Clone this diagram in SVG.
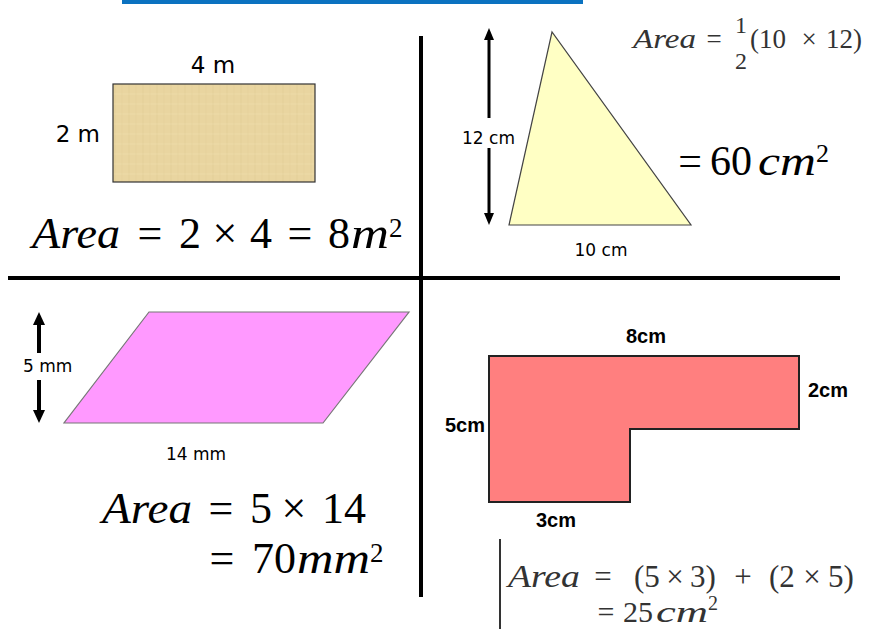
<svg xmlns="http://www.w3.org/2000/svg" width="879" height="629" viewBox="0 0 879 629">
<style>
.lbl{font-family:"DejaVu Sans",sans-serif;fill:#000}
.bl{font-family:"Liberation Sans",Arial,sans-serif;font-weight:bold;fill:#000;font-size:20px}
.m{font-family:"Liberation Serif","Times New Roman",serif;fill:#000}
.g{fill:#333}
.i{font-style:italic}
.ax{stroke:#000;stroke-width:4}
</style>
<defs>
<pattern id="papyrus" width="14" height="10" patternUnits="userSpaceOnUse">
<rect width="14" height="10" fill="#E9D5A0"/>
<line x1="3" y1="0" x2="3" y2="10" stroke="#DDC68E" stroke-width="1" opacity="0.45"/>
<line x1="0" y1="4" x2="14" y2="4" stroke="#F0DFB0" stroke-width="1" opacity="0.5"/>
<line x1="10" y1="0" x2="10" y2="10" stroke="#D9C28A" stroke-width="0.8" opacity="0.3"/>
</pattern>
</defs>
<rect width="879" height="629" fill="#fff"/>
<rect id="title-bar" x="122" y="0" width="461" height="4" fill="#0B72C0"/>
<g id="dividers">
<line class="ax" x1="421" y1="36" x2="421" y2="597"/>
<line class="ax" x1="8" y1="278" x2="840" y2="278"/>
</g>
<g id="rectangle">
<rect x="113" y="84" width="202" height="98" fill="url(#papyrus)" stroke="#333" stroke-width="1.2"/>
<text class="lbl" x="213" y="73" font-size="23" text-anchor="middle">4 m</text>
<text class="lbl" x="100" y="142" font-size="23" text-anchor="end">2 m</text>
<text class="m" y="248" font-size="44"><tspan class="i" x="32" textLength="88" lengthAdjust="spacingAndGlyphs">Area</tspan><tspan x="150" text-anchor="middle">=</tspan><tspan x="190" text-anchor="middle">2</tspan><tspan x="225" text-anchor="middle">×</tspan><tspan x="261" text-anchor="middle">4</tspan><tspan x="300" text-anchor="middle">=</tspan><tspan x="339" text-anchor="middle">8</tspan><tspan class="i" x="351" textLength="38" lengthAdjust="spacingAndGlyphs">m</tspan><tspan dy="-11" font-size="27">2</tspan></text>
</g>
<g id="triangle">
<polygon points="552,32 509,225 691,225" fill="#FFFFC4" stroke="#444" stroke-width="1.2"/>
<line x1="489" y1="38" x2="489" y2="118" stroke="#000" stroke-width="3"/>
<line x1="489" y1="148" x2="489" y2="214" stroke="#000" stroke-width="3"/>
<polygon points="489,28 484,40 494,40" fill="#000"/>
<polygon points="489,225 484,213 494,213" fill="#000"/>
<text class="lbl" x="462" y="144" font-size="17">12 cm</text>
<text class="lbl" x="601" y="256" font-size="17" text-anchor="middle">10 cm</text>
<text class="m g" y="48" font-size="27"><tspan class="i" x="633" textLength="63" lengthAdjust="spacingAndGlyphs">Area</tspan><tspan x="714" text-anchor="middle">=</tspan><tspan x="750">(10</tspan><tspan x="809" text-anchor="middle">×</tspan><tspan x="826">12)</tspan></text>
<text class="m g" x="741" y="33" font-size="24" text-anchor="middle">1</text>
<text class="m g" x="741" y="69" font-size="24" text-anchor="middle">2</text>
<text class="m" y="175" font-size="42"><tspan x="690" text-anchor="middle">=</tspan><tspan x="710">60</tspan><tspan class="i" x="758" textLength="58" lengthAdjust="spacingAndGlyphs">cm</tspan><tspan dy="-13" font-size="26">2</tspan></text>
</g>
<g id="parallelogram">
<polygon points="149,312 409,312 323,423 64,423" fill="#FF99FF" stroke="#777" stroke-width="1.2"/>
<line x1="39" y1="322" x2="39" y2="353" stroke="#000" stroke-width="4"/>
<line x1="39" y1="380" x2="39" y2="412" stroke="#000" stroke-width="4"/>
<polygon points="39,312 33,325 45,325" fill="#000"/>
<polygon points="39,423 33,410 45,410" fill="#000"/>
<text class="lbl" x="23" y="372" font-size="17">5 mm</text>
<text class="lbl" x="196" y="460" font-size="17" text-anchor="middle">14 mm</text>
<text class="m" y="523" font-size="44"><tspan class="i" x="102" textLength="90" lengthAdjust="spacingAndGlyphs">Area</tspan><tspan x="221" text-anchor="middle">=</tspan><tspan x="261" text-anchor="middle">5</tspan><tspan x="294" text-anchor="middle">×</tspan><tspan x="322">14</tspan></text>
<text class="m" y="573" font-size="44"><tspan x="222" text-anchor="middle">=</tspan><tspan x="252">70</tspan><tspan class="i" x="297" textLength="73" lengthAdjust="spacingAndGlyphs">mm</tspan><tspan dy="-11" font-size="27">2</tspan></text>
</g>
<g id="l-shape">
<polygon points="489,356 799,356 799,429 630,429 630,502 489,502" fill="#FF7F7F" stroke="#222" stroke-width="2"/>
<text class="bl" x="646" y="343" text-anchor="middle">8cm</text>
<text class="bl" x="808" y="397">2cm</text>
<text class="bl" x="485" y="432" text-anchor="end">5cm</text>
<text class="bl" x="556" y="527" text-anchor="middle">3cm</text>
<line x1="500" y1="539" x2="500" y2="629" stroke="#333" stroke-width="2"/>
<text class="m g" y="587" font-size="31"><tspan class="i" x="508" textLength="72" lengthAdjust="spacingAndGlyphs">Area</tspan><tspan x="603" text-anchor="middle">=</tspan><tspan x="634">(5</tspan><tspan x="675" text-anchor="middle">×</tspan><tspan x="690">3)</tspan><tspan x="743" text-anchor="middle">+</tspan><tspan x="769">(2</tspan><tspan x="812" text-anchor="middle">×</tspan><tspan x="828">5)</tspan></text>
<text class="m g" y="622" font-size="30"><tspan x="606" text-anchor="middle">=</tspan><tspan x="623">25</tspan><tspan class="i" x="656" textLength="52" lengthAdjust="spacingAndGlyphs">cm</tspan><tspan dy="-12" font-size="20">2</tspan></text>
</g>
</svg>
